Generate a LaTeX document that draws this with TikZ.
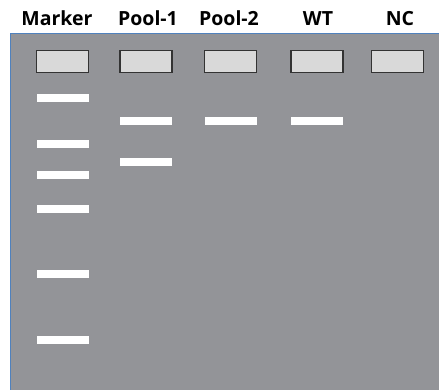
\documentclass[tikz,border=0pt]{standalone}
\usepackage{fontspec}
\setmainfont{Open Sans}
\begin{document}
\begin{tikzpicture}[x=1pt,y=-1pt,
  lbl/.style={font=\bfseries\fontsize{19.5}{22}\selectfont, anchor=base, inner sep=0pt},
  well/.style={draw=black!80, line width=1.2pt, fill=black!15, minimum width=52pt, minimum height=22pt, inner sep=0pt},
  band/.style={fill=white, draw=none, minimum width=52pt, minimum height=8pt, inner sep=0pt}]
\useasboundingbox (0,0) rectangle (439,390);
\definecolor{gel}{HTML}{939498}
\definecolor{edge}{HTML}{4F81BD}
\fill[gel] (10,34) rectangle (439,390);
\draw[edge, line width=1pt] (10,390) -- (10,34) -- (439,34);
% labels
\node[lbl] (lm) at (57,26) {Marker};
\node[lbl] (l1) at (148,26) {Pool-1};
\node[lbl] (l2) at (229,26) {Pool-2};
\node[lbl] (lw) at (318,26) {WT};
\node[lbl] (ln) at (400,26) {NC};
% wells
\node[well] (wm) at (62.5,61.5) {};
\node[well] (w1) at (146,61.5) {};
\node[well] (w2) at (230.5,61.5) {};
\node[well] (ww) at (317,61.5) {};
\node[well] (wn) at (397.5,61.5) {};
% marker bands
\node[band] (m1) at (62.5,98) {};
\node[band] (m2) at (62.5,144) {};
\node[band] (m3) at (62.5,175) {};
\node[band] (m4) at (62.5,209) {};
\node[band] (m5) at (62.5,274) {};
\node[band] (m6) at (62.5,340) {};
% sample bands
\node[band] (p1a) at (146,121) {};
\node[band] (p1b) at (146,162) {};
\node[band] (p2a) at (230.5,121) {};
\node[band] (wta) at (317,121) {};
\end{tikzpicture}
\end{document}
